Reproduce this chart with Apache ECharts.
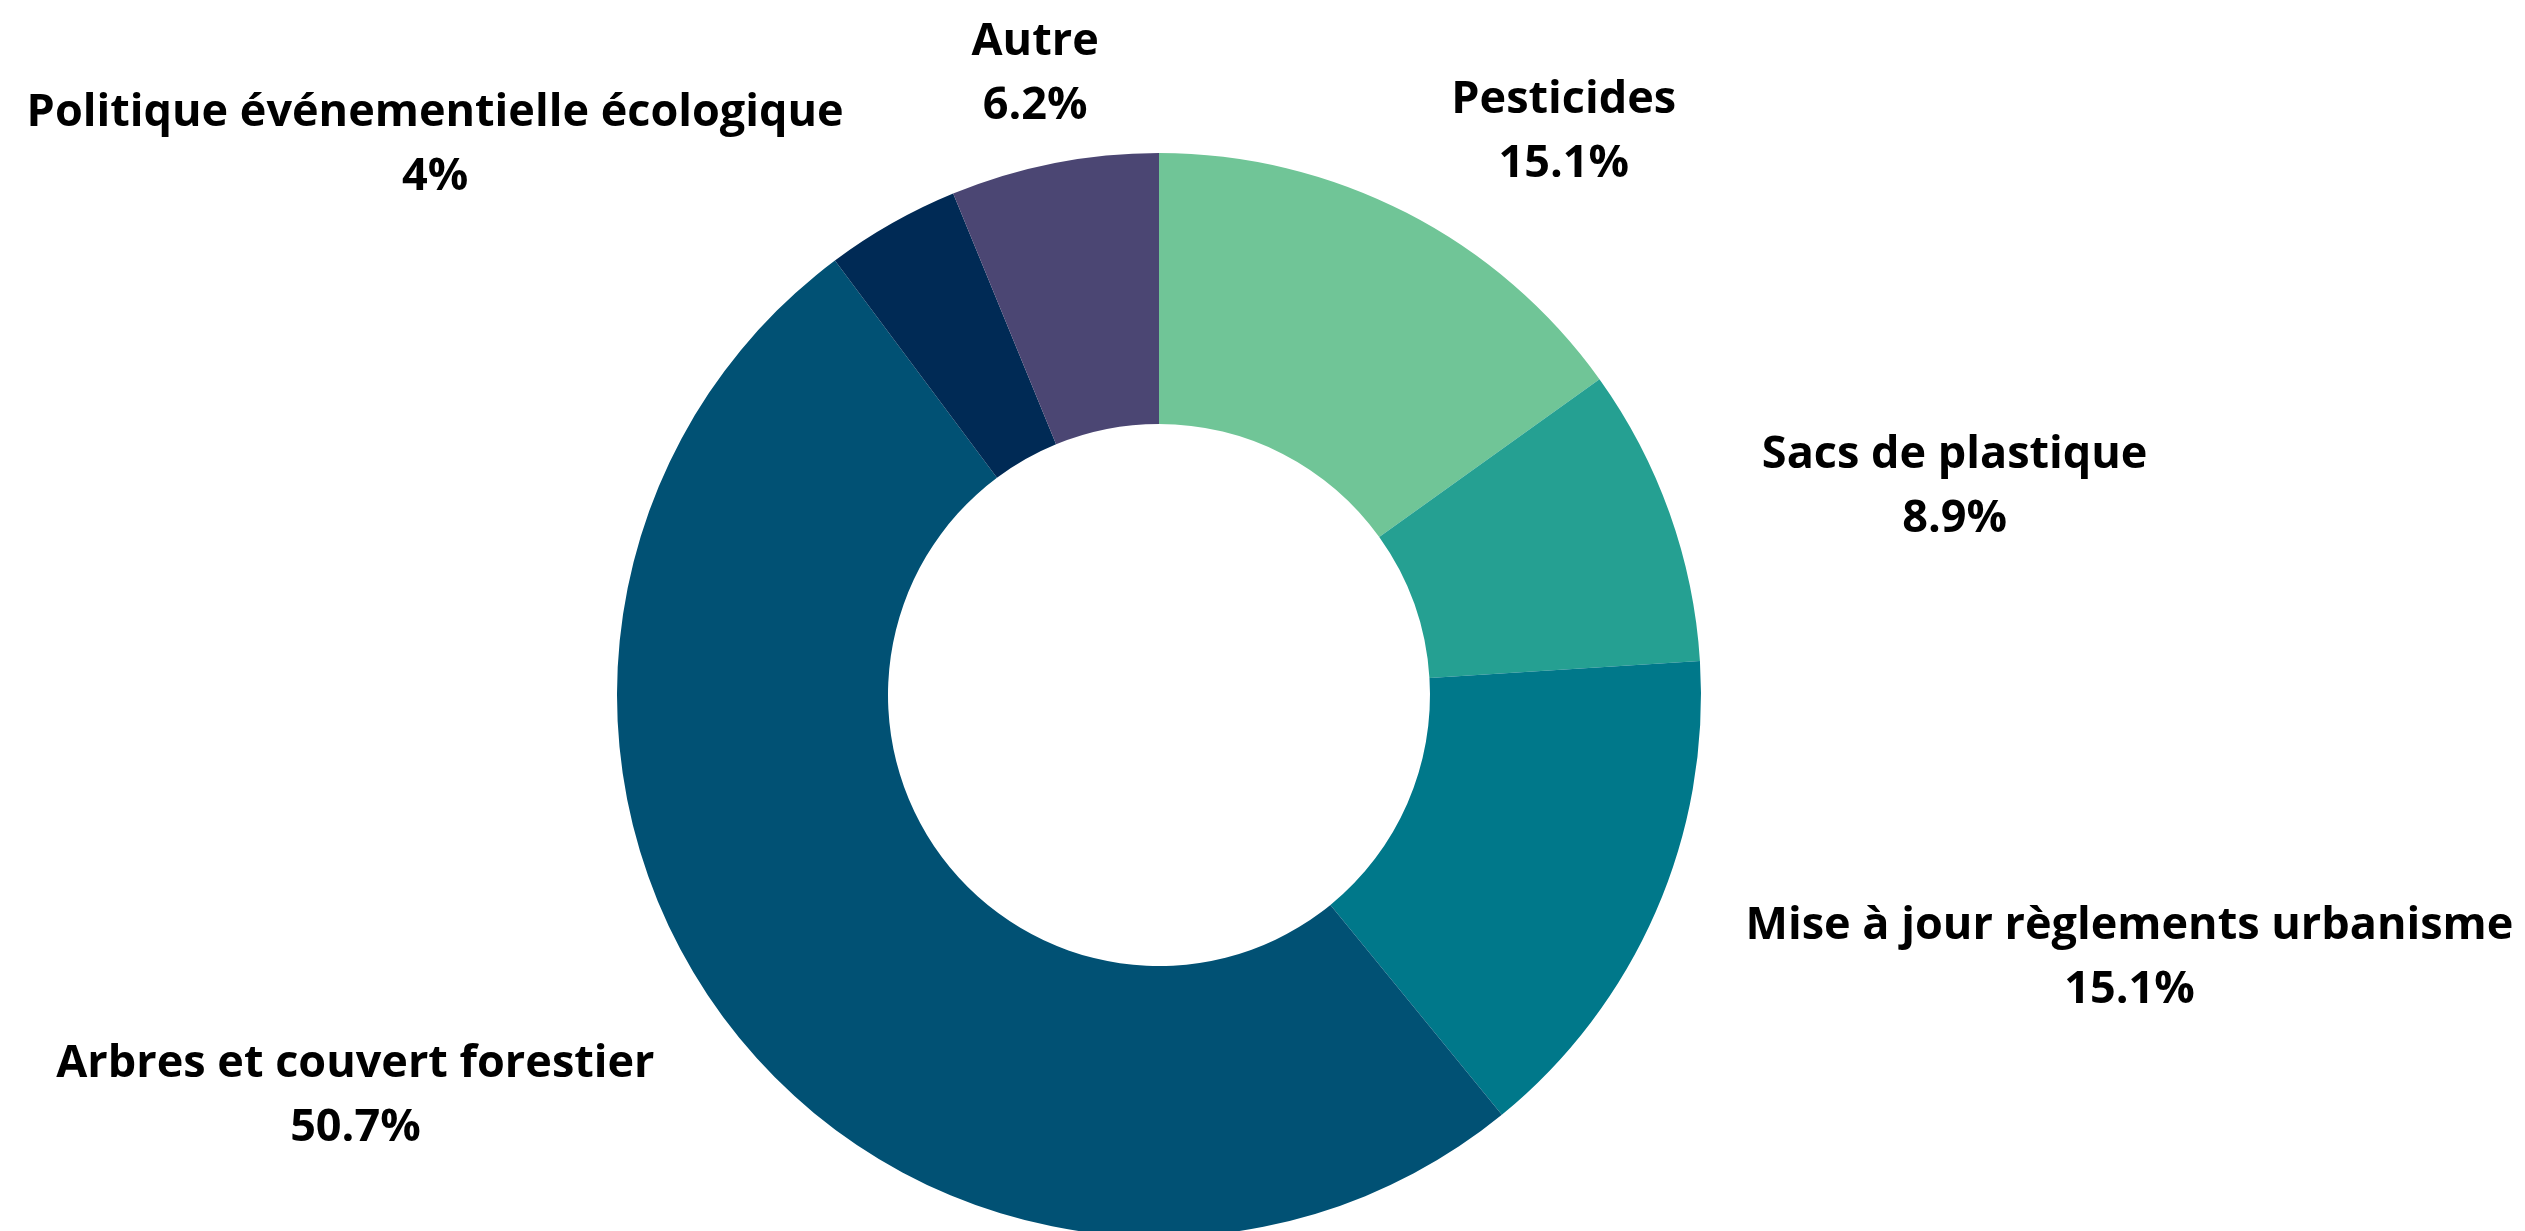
<!DOCTYPE html>
<html>
<head>
<meta charset="utf-8">
<title>Répartition</title>
<style>
html, body { margin: 0; padding: 0; background: #fff; }
#main { width: 2525px; height: 1231px; }
</style>
</head>
<body>
<div id="main"></div>
<script src="https://cdn.jsdelivr.net/npm/echarts@6/dist/echarts.min.js"></script>
<script type="text/javascript">
// données (pourcentages)
var categories = ['Pesticides', 'Sacs de plastique', 'Mise à jour règlements urbanisme',
    'Arbres et couvert forestier', 'Politique événementielle écologique', 'Autre'];
var values = [15.1, 8.9, 15.1, 50.7, 4, 6.2];
var colors = ['#70C597', '#25A092', '#00788A', '#015174', '#002A55', '#4B4673'];

var cx = 1159, cy = 695, r0 = 271, r1 = 542;
var gap = 98;

var myChart = echarts.init(document.getElementById('main'));

var total = values.reduce(function (a, b) { return a + b; }, 0);
function midAngle(i) {
    var s = 0;
    for (var k = 0; k < i; k++) s += values[k];
    return (s + values[i] / 2) / total * Math.PI * 2;
}

var option = {
    animation: false,
    series: [{
        type: 'pie',
        center: [cx, cy],
        radius: [r0, r1],
        startAngle: 90,
        clockwise: true,
        avoidLabelOverlap: false,
        data: categories.map(function (c, i) {
            return { name: c, value: values[i], itemStyle: { color: colors[i] } };
        }),
        label: {
            show: true,
            position: 'outside',
            formatter: function (p) { return p.name + '\n' + p.value + '%'; },
            fontFamily: 'Open Sans',
            fontWeight: 'bold',
            fontSize: 45,
            lineHeight: 64,
            color: '#000',
            overflow: 'none',
            bleedMargin: 0,
            distanceToLabelLine: 0
        },
        labelLine: { show: false, length: gap, length2: 0 },
        labelLayout: function (params) {
            // ancre sur la bissectrice, à r1 + gap du centre ; lignes centrées
            var a = midAngle(params.dataIndex);
            var sx = Math.sin(a), sy = -Math.cos(a);
            var x = cx + sx * (r1 + gap);
            var y = cy + sy * (r1 + gap) + 7;
            var w = params.labelRect.width;
            if (Math.abs(sx) >= 0.3) x += (sx > 0 ? 1 : -1) * w / 2;
            return { x: x, y: y, align: 'center', verticalAlign: 'middle' };
        }
    }]
};
myChart.setOption(option);
</script>
</body>
</html>
